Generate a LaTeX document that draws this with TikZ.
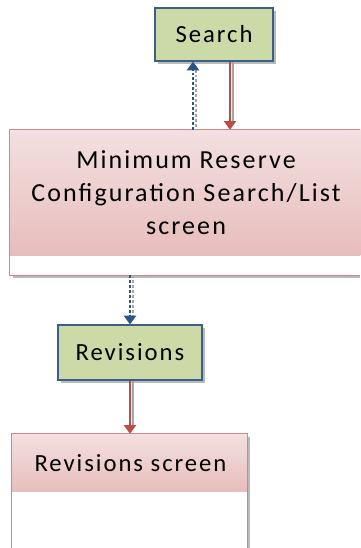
\documentclass[tikz,border=0pt]{standalone}
\usepackage{fontspec}
\setmainfont{Carlito}
\newfontfamily\dfont[LetterSpace=8]{Carlito}
\usetikzlibrary{arrows.meta,shadows,calc}
\definecolor{boxgreen}{HTML}{CCDAA8}
\definecolor{boxblue}{HTML}{3A5F8C}
\definecolor{pinkborder}{HTML}{D38684}
\definecolor{pinktop}{HTML}{F3E0E0}
\definecolor{pinkbot}{HTML}{E7BDBC}
\definecolor{arrred}{HTML}{BE4B48}
\definecolor{arrblue}{HTML}{2A5589}
\tikzset{
  actbox/.style={draw=boxblue, line width=0.9pt, fill=boxgreen, inner sep=0pt,
    drop shadow={opacity=0.45, shadow xshift=2.2pt, shadow yshift=-2.2pt, fill=black!60},
    font=\dfont\fontsize{18.5}{22}\selectfont},
  screenbox/.style={draw=none, fill=white, inner sep=0pt},
  boxshadow/.style={fill=black!60, opacity=0.45},
  pinkline/.style={draw=pinkborder, line width=0.8pt},
  scrtext/.style={inner sep=0pt, align=center, font=\dfont\fontsize{18.5}{24.75}\selectfont},
  bigtext/.style={inner sep=0pt, align=center, font=\dfont\fontsize{19.5}{24.75}\selectfont},
  redarr/.style={draw=arrred, line width=1.5pt, -{Triangle[width=9pt,length=6.5pt]}},
  bluarr/.style={draw=arrblue, line width=1.5pt, dash pattern=on 2.2pt off 1.5pt, -{Triangle[width=9pt,length=6.5pt]}},
  shadowline/.style={draw=black!35, line width=1.5pt},
}
\begin{document}
\begin{tikzpicture}[x=0.75pt,y=-0.75pt]
\useasboundingbox (0,0) rectangle (360,548);
% Search box
\node[actbox, minimum width=88.5pt, minimum height=39.75pt] (search) at (214,34.5) {Search};
% big screen box (runs off the right edge)
\coordinate (mrcnw) at (10,130);
\coordinate (mrcse) at (360,275);
\fill[boxshadow] ([xshift=2.2pt,yshift=-2.2pt]mrcnw) rectangle ([yshift=-2.2pt]mrcse);
\node[screenbox, minimum width=262.5pt, minimum height=108.75pt] (mrc) at (185,202.5) {};
\shade[top color=pinktop, bottom color=pinkbot] (mrc.north west) rectangle ([yshift=15pt]mrc.south east);
\draw[pinkline] (mrc.north east) -- (mrc.north west) -- (mrc.south west) -- (mrc.south east);
\node[bigtext] (mrctxt) at (186,192.5) {Minimum Reserve\\Configuration Search/List\\screen};
% Revisions box
\node[actbox, minimum width=108pt, minimum height=41.25pt] (rev) at (130,352.5) {Revisions};
% Revisions screen box (runs off the bottom edge)
\fill[boxshadow] (14.9,437) rectangle (250,548);
\node[screenbox, minimum width=176.25pt, minimum height=85.5pt] (revs) at (129.5,491) {};
\shade[top color=pinktop, bottom color=pinkbot] (revs.north west) rectangle ([yshift=-43.5pt]revs.north east);
\draw[pinkline] (revs.south west) -- (revs.north west) -- (revs.north east) -- (revs.south east);
\node[scrtext] (revstxt) at (130.5,463) {Revisions screen};
% arrow shadows
\draw[shadowline, dash pattern=on 2.2pt off 1.5pt] ([xshift=2.4pt,yshift=-6pt]search.south -| 193,0) -- ([xshift=2.4pt]mrc.north -| 193,0);
\draw[shadowline] ([xshift=2.4pt]search.south -| 230,0) -- ([xshift=2.4pt,yshift=6pt]mrc.north -| 230,0);
\draw[shadowline, dash pattern=on 2.2pt off 1.5pt] ([xshift=2.4pt]mrc.south -| 130,0) -- ([xshift=2.4pt,yshift=6pt]rev.north);
\draw[shadowline] ([xshift=2.4pt]rev.south) -- ([xshift=2.4pt,yshift=6pt]revs.north -| 130,0);
% arrows
\draw[bluarr] (mrc.north -| 193,0) -- (search.south -| 193,0);
\draw[redarr] (search.south -| 230,0) -- (mrc.north -| 230,0);
\draw[bluarr] (mrc.south -| 130,0) -- (rev.north);
\draw[redarr] (rev.south) -- (revs.north -| 130,0);
\end{tikzpicture}
\end{document}
